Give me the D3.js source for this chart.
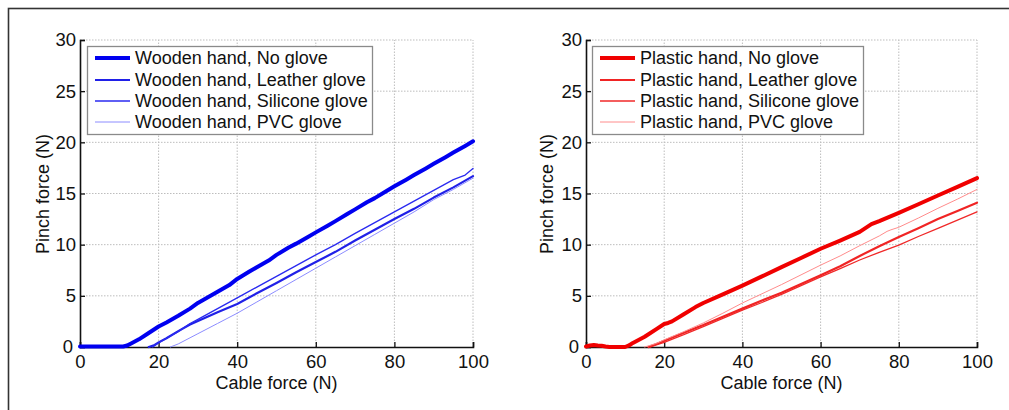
<!DOCTYPE html>
<html>
<head>
<meta charset="utf-8">
<script src="https://cdn.jsdelivr.net/npm/d3@7"></script>
<style>
  html, body { margin: 0; padding: 0; background: #fff; }
  svg { display: block; }
  text { font-family: "Liberation Sans", Arial, sans-serif; fill: #111; }
</style>
</head>
<body>
<svg id="chart" width="1009" height="410"></svg>
<script>
// ---------- data ----------
const xTicks = [0, 20, 40, 60, 80, 100];
const yTicks = [0, 5, 10, 15, 20, 25, 30];
const xLabel = "Cable force (N)";
const yLabel = "Pinch force (N)";

// Wooden hand (left panel)
const woodNoGloveX = [0,5,10,11,12,13,15,17,20,22,25,28,30,33,35,38,40,43,45,48,50,53,55,58,60,63,65,68,70,73,75,78,80,83,85,88,90,93,95,98,100];
const woodNoGloveY = [0.05,0.05,0.05,0.05,0.15,0.35,0.75,1.25,2.0,2.4,3.05,3.75,4.3,4.95,5.4,6.05,6.65,7.35,7.8,8.45,9.0,9.7,10.1,10.75,11.2,11.85,12.3,13.0,13.45,14.15,14.55,15.25,15.7,16.35,16.8,17.45,17.9,18.55,19.0,19.65,20.1];
const woodLeatherX = [17.5,19,20,22,25,28,30,35,40,45,50,55,60,65,70,75,80,85,90,95,100];
const woodLeatherY = [0,0.2,0.45,0.85,1.55,2.2,2.55,3.4,4.2,5.25,6.25,7.3,8.3,9.3,10.4,11.45,12.5,13.5,14.6,15.6,16.7];
const woodSiliconeX = [18.5,20,22,25,28,30,35,40,45,50,55,60,65,70,75,80,85,90,95,98,100];
const woodSiliconeY = [0,0.4,0.85,1.5,2.3,2.7,3.75,4.8,5.85,6.9,7.95,9.0,10.0,11.1,12.15,13.2,14.25,15.3,16.35,16.8,17.45];
const woodPVCX = [23,25,28,30,35,40,45,50,55,60,65,70,75,80,85,90,95,100];
const woodPVCY = [0,0.3,0.9,1.3,2.3,3.3,4.4,5.5,6.6,7.7,8.8,9.9,11.0,12.1,13.2,14.4,15.4,16.5];

// Plastic hand (right panel)
const plastNoGloveX = [0,1,2,3,4,5,6,8,10,11,12,15,18,20,21,22,25,28,30,35,40,45,50,55,60,65,70,73,75,80,85,90,95,100];
const plastNoGloveY = [0.05,0.15,0.2,0.15,0.12,0.05,0,0,0,0.15,0.4,1.0,1.75,2.25,2.35,2.5,3.2,3.9,4.3,5.15,6.0,6.9,7.8,8.7,9.6,10.4,11.25,12.0,12.3,13.1,13.95,14.8,15.65,16.5];
const plastLeatherX = [16,18,20,25,30,35,40,45,50,55,60,65,70,75,80,85,90,95,100];
const plastLeatherY = [0,0.3,0.6,1.4,2.15,2.95,3.75,4.55,5.3,6.15,7.0,7.9,8.9,9.85,10.75,11.6,12.5,13.3,14.1];
const plastSiliconeX = [16.5,18,20,25,30,35,40,45,50,55,60,65,70,75,80,85,90,95,100];
const plastSiliconeY = [0,0.2,0.45,1.2,2.0,2.8,3.6,4.35,5.15,6.0,6.85,7.65,8.5,9.25,9.95,10.8,11.6,12.4,13.2];
const plastPVCX = [15,18,20,25,30,35,40,45,50,55,60,65,70,75,77,78,80,85,90,95,100];
const plastPVCY = [0,0.35,0.7,1.5,2.35,3.3,4.3,5.2,6.1,7.05,8.0,8.9,9.9,10.85,11.3,11.45,11.7,12.6,13.55,14.45,15.4];

const woodNames = ["Wooden hand, No glove","Wooden hand, Leather glove","Wooden hand, Silicone glove","Wooden hand, PVC glove"];
const plastNames = ["Plastic hand, No glove","Plastic hand, Leather glove","Plastic hand, Silicone glove","Plastic hand, PVC glove"];

// ---------- styles ----------
const styleBlue = [
  {color:"#0000f0", width:4},
  {color:"#2020e8", width:2.2},
  {color:"#2a2af0", width:1.3},
  {color:"#8c8cff", width:1}
];
const styleRed = [
  {color:"#f00000", width:4},
  {color:"#f02424", width:2.2},
  {color:"#f02828", width:1.3},
  {color:"#ff8c8c", width:1}
];

const svg = d3.select("#chart");

// outer frame
svg.append("rect").attr("x",8.5).attr("y",8.5).attr("width",1200).attr("height",600)
  .attr("fill","none").attr("stroke","#333").attr("stroke-width",1.6);

function panel(opts) {
  const x = d3.scaleLinear().domain([0,100]).range([opts.x0, opts.x1]);
  const y = d3.scaleLinear().domain([0,30]).range([347, 40]);
  const g = svg.append("g");

  // grid
  g.append("g").selectAll("line").data(xTicks.filter(d=>d>0)).join("line")
    .attr("x1",d=>x(d)).attr("x2",d=>x(d)).attr("y1",y(0)).attr("y2",y(30))
    .attr("stroke","#bdbdbd").attr("stroke-width",1).attr("stroke-dasharray","1.5,1.5");
  g.append("g").selectAll("line").data(yTicks.filter(d=>d>0)).join("line")
    .attr("x1",x(0)).attr("x2",x(100)).attr("y1",d=>y(d)).attr("y2",d=>y(d))
    .attr("stroke","#bdbdbd").attr("stroke-width",1).attr("stroke-dasharray","1.5,1.5");

  // axes
  const xAxis = d3.axisBottom(x).tickValues(xTicks).tickSize(-5).tickPadding(8).tickFormat(d3.format("d"));
  const yAxis = d3.axisLeft(y).tickValues(yTicks).tickSize(-5).tickPadding(4).tickFormat(d3.format("d"));
  const ga = g.append("g");
  const gx = ga.append("g").attr("transform",`translate(0,${y(0)})`).call(xAxis);
  const gy = ga.append("g").attr("transform",`translate(${x(0)},0)`).call(yAxis);
  [gx, gy].forEach(a => {
    a.select(".domain").attr("stroke","#111").attr("stroke-width",1.6);
    a.selectAll(".tick line").attr("stroke","#111").attr("stroke-width",1.3);
    a.selectAll(".tick text").style("font-size","18.5px").attr("fill","#111")
      .style("font-family","'Liberation Sans', Arial, sans-serif");
  });
  gy.selectAll(".tick").filter(d=>d===0).select("text").attr("dx","-3");

  // lines
  const line = d3.line().x(d=>x(d[0])).y(d=>y(d[1]));
  opts.series.forEach((s,i) => {
    const pts = s.xs.map((v,k)=>[v, s.ys[k]]);
    g.append("path").datum(pts).attr("d", line)
      .attr("fill","none").attr("stroke", opts.styles[i].color)
      .attr("stroke-width", opts.styles[i].width)
      .attr("stroke-linejoin","round").attr("stroke-linecap","round");
  });

  // axis labels
  g.append("text").attr("x",(x(0)+x(100))/2).attr("y",389).attr("text-anchor","middle")
    .style("font-size","18px").text(xLabel);
  g.append("text").attr("transform",`translate(${opts.ylabX},194) rotate(-90)`)
    .attr("text-anchor","middle").attr("dy","0.35em").style("font-size","18px").text(yLabel);

  // legend
  const lg = g.append("g");
  lg.append("rect").attr("x",opts.lx0+0.5).attr("y",46.5).attr("width",opts.lx1-opts.lx0).attr("height",88)
    .attr("fill","#fff").attr("stroke","#8a8a8a").attr("stroke-width",1.3);
  const rows = [58, 80, 101, 122];
  opts.names.forEach((n,i) => {
    lg.append("line").attr("x1",opts.lx0+8).attr("x2",opts.lx0+43).attr("y1",rows[i]).attr("y2",rows[i])
      .attr("stroke",opts.styles[i].color).attr("stroke-width",opts.styles[i].width);
    lg.append("text").attr("x",opts.lx0+48).attr("y",rows[i]).attr("dy","0.35em")
      .style("font-size","18px").text(n);
  });
}

panel({x0:80, x1:473, ylabX:43, lx0:87, lx1:372, names:woodNames, styles:styleBlue,
  series:[{xs:woodNoGloveX,ys:woodNoGloveY},{xs:woodLeatherX,ys:woodLeatherY},{xs:woodSiliconeX,ys:woodSiliconeY},{xs:woodPVCX,ys:woodPVCY}]});
panel({x0:586, x1:977, ylabX:547, lx0:592, lx1:863, names:plastNames, styles:styleRed,
  series:[{xs:plastNoGloveX,ys:plastNoGloveY},{xs:plastLeatherX,ys:plastLeatherY},{xs:plastSiliconeX,ys:plastSiliconeY},{xs:plastPVCX,ys:plastPVCY}]});
</script>
</body>
</html>
